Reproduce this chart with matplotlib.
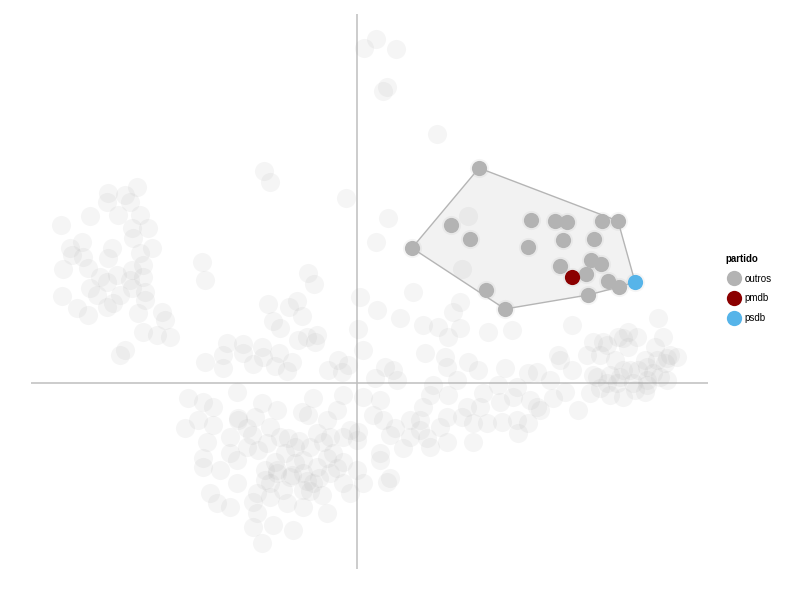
import matplotlib
matplotlib.use("Agg")
import matplotlib.pyplot as plt
from matplotlib.lines import Line2D
from matplotlib.patches import Polygon
import numpy as np

plt.rcParams['font.family'] = ['Liberation Sans', 'DejaVu Sans']

# all deputies (first two principal components), drawn faint
bg_dim1 = [
    -2.20, -2.49, -2.50, -2.32, -2.27, -2.67, -2.39, -2.17, -2.96, -2.25, -2.09, -2.24, -2.75,
    -2.87, -2.85, -2.45, -2.05, -2.74, -2.49, -2.17, -1.55, -2.94, -2.69, -2.14, -2.25, -2.40,
    -1.52, -2.57, -2.27, -2.14, -2.50, -2.67, -2.95, -2.25, -2.12, -2.37, -2.60, -2.12, -2.50,
    -2.80, -2.44, -2.69, -2.19, -1.95, -1.92, -2.14, -2.00, -1.87, -2.37, -2.32, -1.52, -1.30,
    -1.34,
    -1.69, -1.54, -1.20, -1.44, -1.72, -1.59, -1.44, -1.19, -0.95, -0.80, -1.02, -0.87, -1.05,
    -0.77, -0.69, -0.55, -0.44, -0.49, -0.30, -0.14, -0.20, -1.50, -1.27, -1.10, -1.27, -1.54,
    -1.54, -1.37, -1.20, -0.99, -0.92, -0.80, -0.72, -0.62, -0.47, -0.54, -0.34, -0.27, -0.14,
    -0.07, 0.00, -0.24, -0.14, -0.40, -0.54, -0.67, -0.44, -0.27, 0.00, 0.06, -0.14, 0.30,
    -0.35, -0.54, -0.74, -0.87, -1.00, -1.20, -1.47, -1.40, -1.27, -1.04, -0.87, -0.70, -0.54,
    -0.30, -1.00, -0.84, -1.04, -0.64, -0.95, -0.07,
    -0.80, -0.65, -0.50, -0.38, -0.47, -0.62, -0.82, -0.92, -0.30, -0.20, -0.58, -0.40, -1.10,
    -0.90, -1.19,
    0.56, 0.43, 0.66, 0.96, 1.03, 0.81, 0.91, 1.03, 1.31, 1.55, 2.15, 3.01, 3.06, 0.68, 0.88,
    0.90, 1.11, 1.21, 1.00, 1.48, 1.71, 2.01, 2.03, 2.15, 2.30, 2.36, 2.50, 2.66, 2.71, 2.80,
    2.40, 2.50, 2.63, 2.73, 2.90, 3.00, 3.10, 3.20, 2.90, 3.03, 2.78, 2.66, 2.53, 2.33, 1.93,
    1.80, 2.08, 2.21, 1.96, 1.83, 1.73, 1.56, 1.60, 1.41, 1.43, 1.26, 1.23, 1.10, 1.05, 1.16,
    1.30, 1.45, 1.60, 1.71, 1.61, 1.80, 0.91, 0.76, 0.73, 0.66, 0.53, 0.63, 0.83, 0.90, 0.70,
    0.53, 0.38, 0.40, 0.36,
    2.71, 2.61, 2.46, 2.98, 2.43, 2.58, 2.88, 3.13, 3.08, 2.36, 2.53, 2.66, 2.81, 2.96, 3.10,
    2.60, 2.76, 2.90, 2.43, 2.88,
    0.19, 0.07, 0.39, 0.30, 0.26, 0.80, -0.93, -0.87, -0.11, 0.31, 0.19,
    -0.49, -0.43, -0.89, -0.68, -0.60, -0.55, -0.84, -0.77, 0.03, 0.20, 0.01, 0.06, -0.59,
    -0.50, -0.40, -0.42, -1.14, -0.95, -1.14, -0.94, -0.78, -0.65, -1.34, -1.04, -0.82, -0.70,
    -0.29, -0.19, -0.09, -0.15, 0.28, 0.18,
    0.06, 0.23, 0.16, 0.26, 0.33, 0.23, 0.23, 0.01, 0.63, 0.73, 0.46, 0.33, 0.90, 1.16,
    1.11, 1.05,
]
bg_dim2 = [
    1.96, 1.90, 1.81, 1.88, 1.81, 1.67, 1.68, 1.68, 1.58, 1.55, 1.55, 1.45, 1.41,
    1.35, 1.28, 1.35, 1.35, 1.26, 1.25, 1.30, 1.21, 1.14, 1.15, 1.18, 1.13, 1.08,
    1.03, 1.06, 1.03, 1.06, 1.01, 0.95, 0.87, 0.95, 0.91, 0.88, 0.88, 0.83, 0.76,
    0.75, 0.80, 0.68, 0.70, 0.71, 0.63, 0.51, 0.48, 0.46, 0.28, 0.33, 0.21, 0.40,
    0.28,
    -0.15, -0.19, -0.09, -0.24, -0.45, -0.37, -0.42, -0.35, -0.20, -0.27, -0.34, -0.44, -0.52,
    -0.54, -0.55, -0.29, -0.15, -0.32, -0.37, -0.12, -0.27, -0.59, -0.54, -0.64, -0.70, -0.75,
    -0.84, -0.87, -0.77, -0.67, -0.87, -0.87, -0.70, -0.64, -0.64, -0.77, -0.59, -0.54, -0.54,
    -0.47, -0.57, -0.70, -0.79, -0.84, -0.90, -0.94, -1.00, -0.90, -0.87, -1.00, -1.00, -0.99,
    -1.12, -1.07, -1.07, -1.00, -1.10, -1.00, -1.10, -1.20, -1.24, -1.19, -1.14, -1.20, -1.24,
    -1.30, -1.30, -1.42, -1.44, -1.47, -1.60, -1.10,
    -0.90, -0.92, -0.98, -0.95, -1.08, -0.80, -0.79, -0.97, -0.75, -0.85, -0.58, -0.50, -0.45,
    -0.60, -0.37,
    0.91, 0.65, 0.58, 0.71, 0.81, 0.56, 0.46, 0.55, 0.51, 0.53, 0.58, 0.65, 0.46, 0.30, 0.26,
    0.16, 0.21, 0.13, 0.03, 0.15, 0.10, 0.28, 0.23, 0.13, 0.28, 0.41, 0.38, 0.45, 0.36, 0.46,
    0.06, 0.00, 0.06, 0.13, 0.16, 0.23, 0.25, 0.26, 0.03, 0.06, -0.07, -0.14, -0.12, -0.10, 0.03,
    0.11, -0.09, -0.27, -0.15, -0.27, -0.17, -0.14, -0.04, -0.02, -0.19, -0.10, -0.24, -0.24, -0.34, -0.40,
    -0.40, -0.39, -0.37, -0.40, -0.50, -0.24, -0.12, -0.02, -0.12, -0.24, -0.37, -0.47, -0.44, -0.34, -0.55,
    -0.54, -0.45, 0.03, 0.13,
    0.51, 0.46, 0.41, 0.36, 0.28, 0.23, 0.23, 0.28, 0.20, 0.08, 0.08, 0.13, 0.13, 0.10, 0.03,
    0.00, 0.00, -0.02, -0.05, -0.09,
    3.44, 3.35, 3.34, 2.96, 2.92, 2.49, 2.12, 2.01, 1.85, 1.65, 1.41,
    1.10, 0.99, 0.79, 0.76, 0.82, 0.67, 0.62, 0.55, 0.86, 0.73, 0.54, 0.33, 0.43,
    0.46, 0.48, 0.41, 0.39, 0.36, 0.30, 0.26, 0.30, 0.21, 0.15, 0.19, 0.17, 0.12,
    0.13, 0.23, 0.18, 0.11, 0.16, 0.05,
    -0.14, -0.17, -0.32, -0.37, -0.52, -0.70, -0.77, -0.49, -0.37, -0.64, -0.65, -0.95, -0.59, -0.59,
    1.67, 1.14,
]

# highlighted party group
outros_dim1 = [1.22, 0.55, 0.94, 1.13, 1.29, 1.48, 1.74, 1.71, 1.98, 2.10, 2.06, 2.03, 2.29,
               2.34, 2.44, 2.37, 2.45, 2.61, 2.51, 2.62, 2.31]
outros_dim2 = [2.15, 1.35, 1.58, 1.44, 0.93, 0.74, 1.63, 1.36, 1.62, 1.61, 1.43, 1.17, 1.09,
               1.23, 1.19, 1.44, 1.62, 1.62, 1.02, 0.96, 0.88]
pmdb_dim1 = [2.15]
pmdb_dim2 = [1.06]
psdb_dim1 = [2.78]
psdb_dim2 = [1.01]

partidos = ['outros', 'pmdb', 'psdb']
cores = ['#B3B3B3', '#8B0000', '#56B4E9']


def convex_hull(pts):
    pts = sorted(set(pts))
    def cross(o, a, b):
        return (a[0] - o[0]) * (b[1] - o[1]) - (a[1] - o[1]) * (b[0] - o[0])
    lower, upper = [], []
    for p in pts:
        while len(lower) >= 2 and cross(lower[-2], lower[-1], p) <= 0:
            lower.pop()
        lower.append(p)
    for p in reversed(pts):
        while len(upper) >= 2 and cross(upper[-2], upper[-1], p) <= 0:
            upper.pop()
        upper.append(p)
    return lower[:-1] + upper[:-1]


fig = plt.figure(figsize=(8, 6), dpi=100)
ax = fig.add_axes([31 / 800, 31 / 600, 677 / 800, 555 / 600])
ax.set_xlim(-3.26, 3.51)
ax.set_ylim(-1.86, 3.69)
ax.axis('off')

ax.axhline(0, color='#BEBEBE', lw=1.1, zorder=1)
ax.axvline(0, color='#BEBEBE', lw=1.1, zorder=1)

hl_x = bg_dim1 + outros_dim1 + pmdb_dim1 + psdb_dim1
hl_y = bg_dim2 + outros_dim2 + pmdb_dim2 + psdb_dim2
ax.scatter(hl_x, hl_y, s=190, color='#999999', alpha=0.09, linewidths=0, zorder=2)

grupo = list(zip(outros_dim1 + pmdb_dim1 + psdb_dim1, outros_dim2 + pmdb_dim2 + psdb_dim2))
hull = convex_hull(grupo)
ax.add_patch(Polygon(hull, closed=True, facecolor=(0.5, 0.5, 0.5, 0.1),
                     edgecolor='#B5B5B5', lw=1.0, zorder=3))

ax.scatter(outros_dim1, outros_dim2, s=120, color=cores[0], linewidths=0, zorder=4)
ax.scatter(pmdb_dim1, pmdb_dim2, s=120, color=cores[1], linewidths=0, zorder=5)
ax.scatter(psdb_dim1, psdb_dim2, s=120, color=cores[2], linewidths=0, zorder=5)

handles = [Line2D([], [], ls='', marker='o', markersize=11, color=c, markeredgewidth=0)
           for c in cores]
leg = fig.legend(handles, partidos, title='partido', loc='upper left',
                 bbox_to_anchor=(721 / 800, 1 - 249 / 600), frameon=False,
                 fontsize=7, title_fontsize=7, alignment='left',
                 handletextpad=0.3, labelspacing=1.0, borderpad=0, handlelength=1.6)
leg.get_title().set_fontweight('bold')

fig.savefig('out.png', dpi=100)
